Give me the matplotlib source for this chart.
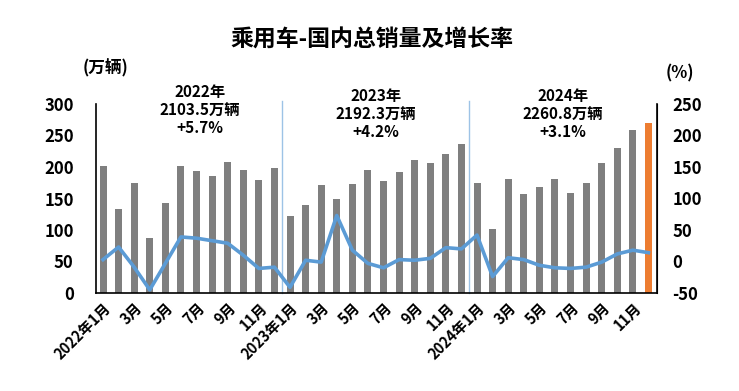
import numpy as np
import matplotlib
matplotlib.use("Agg")
import matplotlib.pyplot as plt

plt.rcParams['font.family'] = ['Noto Sans CJK SC', 'DejaVu Sans']
plt.rcParams['font.weight'] = 'bold'
plt.rcParams['axes.unicode_minus'] = False

# ======= 数据 (万辆 / %) =======
sales_2022 = [201, 134, 175, 87, 143, 202, 193, 186, 208, 195, 180, 199]
sales_2023 = [122, 139, 171, 150, 173, 196, 177, 192, 211, 206, 220, 237]
sales_2024 = [175, 102, 181, 157, 168, 181, 159, 174, 207, 230, 258, 270]

growth_2022 = [3, 23, -9, -45, -3, 39, 37, 33, 29, 10, -11, -9]
growth_2023 = [-41, 2, -1, 73, 18, -3, -10, 3, 2, 5, 22, 20]
growth_2024 = [42, -24, 6, 3, -6, -10, -11, -9, -1, 12, 18, 14]

year_notes = ["2022年\n2103.5万辆\n+5.7%",
              "2023年\n2192.3万辆\n+4.2%",
              "2024年\n2260.8万辆\n+3.1%"]

tick_labels = []
for y in (2022, 2023, 2024):
    for m in range(1, 13, 2):
        tick_labels.append(f"{y}年1月" if m == 1 else f"{m}月")
# =================================

sales = np.array(sales_2022 + sales_2023 + sales_2024)
growth = np.array(growth_2022 + growth_2023 + growth_2024)
x = np.arange(len(sales))

GRAY = "#7f7f7f"
ORANGE = "#ed7d31"
BLUE = "#5b9bd5"

fig = plt.figure(figsize=(7.39, 3.91), dpi=100)
ax = fig.add_axes([96 / 739, 1 - 293 / 391, (657 - 96) / 739, (293 - 104) / 391])

colors = [GRAY] * (len(sales) - 1) + [ORANGE]
ax.bar(x, sales, width=0.45, color=colors, zorder=2)
ax.set_ylim(0, 300)
ax.set_yticks(np.arange(0, 301, 50))
ax.set_xlim(-0.45, 35.55)

ax2 = ax.twinx()
ax2.plot(x, growth, color=BLUE, lw=2.6, zorder=3)
ax2.set_ylim(-50, 250)
ax2.set_yticks(np.arange(-50, 251, 50))

# 年份分隔线
for xv in (11.5, 23.5):
    ax.plot([xv, xv], [0, 305], color="#9dc3e6", lw=1, clip_on=False, zorder=1)

for a in (ax, ax2):
    a.spines['top'].set_visible(False)
    a.tick_params(axis='y', length=0, labelsize=12)
ax.tick_params(axis='y', pad=16)
ax2.tick_params(axis='y', pad=11)
ax.spines['left'].set_linewidth(1.2)
ax.spines['bottom'].set_linewidth(1.2)
ax2.spines['right'].set_linewidth(1.2)
ax2.spines['left'].set_visible(False)
ax2.spines['bottom'].set_visible(False)

ax.set_xticks(x[::2])
ax.set_xticklabels(tick_labels, rotation=45, ha='right', rotation_mode='anchor',
                   fontsize=10.5)
ax.tick_params(axis='x', length=0, pad=5)

for lbl in ax.get_yticklabels() + ax2.get_yticklabels():
    lbl.set_fontweight('bold')

fig.text(372 / 739, 1 - 40 / 391, "乘用车-国内总销量及增长率", ha='center', va='center',
         fontsize=16.5, fontweight='bold')
fig.text(105 / 739, 1 - 68 / 391, "(万辆)", ha='center', va='center',
         fontsize=12, fontweight='bold')
fig.text(680 / 739, 1 - 73 / 391, "(%)", ha='center', va='center',
         fontsize=12, fontweight='bold')

for xc, yc, note in zip((200, 376, 563), (110, 114, 114), year_notes):
    fig.text(xc / 739, 1 - yc / 391, note, ha='center', va='center',
             fontsize=11, fontweight='bold', linespacing=1.15)

fig.savefig("out.png", dpi=100)
